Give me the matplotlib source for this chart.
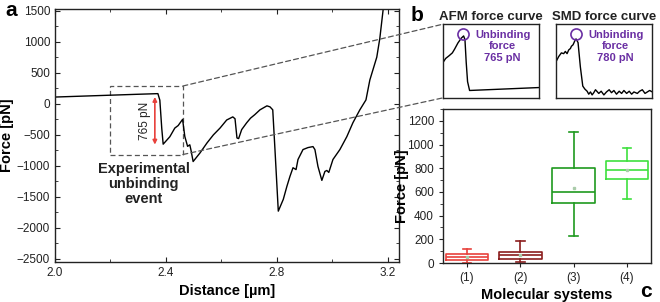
"""
Force-distance curve (a), AFM / SMD unbinding insets (b) and
box plot of unbinding forces per molecular system (c).
"""
import matplotlib
matplotlib.use("Agg")
import matplotlib.pyplot as plt
from matplotlib.patches import Rectangle, ConnectionPatch
from matplotlib.ticker import MultipleLocator

plt.rcParams["font.family"] = ["Liberation Sans", "DejaVu Sans"]

INK = "#222222"
PURPLE = "#6a2fa3"
RED = "#e8413c"

# ---- panel a: experimental force curve ------------------------------------
dist_um = [2.000, 2.100, 2.200, 2.300, 2.371, 2.378, 2.385, 2.390, 2.414, 2.432,
           2.444, 2.460, 2.468, 2.478, 2.486, 2.490, 2.498, 2.523, 2.548, 2.571,
           2.595, 2.619, 2.641, 2.649, 2.656, 2.662, 2.673, 2.691, 2.705, 2.720,
           2.739, 2.764, 2.775, 2.785, 2.793, 2.805, 2.823, 2.836, 2.847, 2.858,
           2.869, 2.876, 2.894, 2.912, 2.930, 2.937, 2.948, 2.962, 2.973, 2.980,
           2.987, 3.002, 3.027, 3.052, 3.074, 3.099, 3.121, 3.135, 3.160, 3.171,
           3.185]
force_pn = [110, 125, 140, 155, 165, 60, -400, -650, -530, -390,
            -350, -250, -525, -685, -660, -740, -930, -790, -630, -500,
            -390, -260, -210, -240, -550, -560, -415, -305, -230, -175,
            -96, -32, -48, -96, -737, -1730, -1540, -1330, -1170, -1030,
            -1060, -897, -737, -705, -689, -737, -1010, -1234, -1090, -1074,
            -1106, -897, -737, -529, -304, -96, 64, 385, 753, 1058,
            1600]

# ---- panel b: inset curves (normalised 0..1) ------------------------------
afm_x = [0.0, 0.028, 0.062, 0.097, 0.12, 0.155, 0.19, 0.214, 0.228, 0.241,
         0.255, 0.276, 1.0]
afm_y = [0.48, 0.535, 0.57, 0.61, 0.66, 0.745, 0.81, 0.84, 0.79, 0.48,
         0.22, 0.10, 0.14]
smd_x = [0.0, 0.028, 0.056, 0.08, 0.097, 0.115, 0.132, 0.15, 0.16, 0.177,
         0.194, 0.208, 0.229, 0.253, 0.278, 0.299, 0.323, 0.34, 0.358, 0.375,
         0.392, 0.41, 0.444, 0.469, 0.497, 0.524, 0.552, 0.576, 0.601, 0.628,
         0.656, 0.681, 0.705, 0.733, 0.76, 0.785, 0.809, 0.844, 0.868, 0.896,
         0.924, 0.948, 0.972, 1.0]
smd_y = [0.49, 0.56, 0.61, 0.60, 0.63, 0.60, 0.65, 0.67, 0.70, 0.72,
         0.77, 0.80, 0.75, 0.42, 0.16, 0.12, 0.09, 0.05, 0.08, 0.04,
         0.07, 0.11, 0.06, 0.09, 0.04, 0.08, 0.11, 0.07, 0.10, 0.05,
         0.09, 0.06, 0.10, 0.06, 0.09, 0.05, 0.08, 0.06, 0.09, 0.11,
         0.06, 0.08, 0.10, 0.08]

# ---- panel c: unbinding force box plots -----------------------------------
systems = ["(1)", "(2)", "(3)", "(4)"]
whis_lo = [0, 8, 225, 544]
q1 = [28, 37, 510, 713]
median = [51, 65, 603, 783]
q3 = [73, 93, 806, 862]
whis_hi = [115, 183, 1107, 969]
means = [52, 68, 637, 785]
box_colors = [RED, "#8b1e1e", "#1f9a1f", "#3ee03e"]


def style_spines(ax):
    for s in ax.spines.values():
        s.set_color(INK)
        s.set_linewidth(1.0)


fig = plt.figure(figsize=(6.6, 3.02), dpi=100)

# ---------------- a
ax = fig.add_axes([0.0833, 0.1325, 0.5212, 0.8377])
ax.plot(dist_um, force_pn, color="black", lw=1.0)
ax.set_xlim(2.0, 3.24)
ax.set_ylim(-2550, 1530)
ax.set_xticks([2.0, 2.4, 2.8, 3.2])
ax.set_xticklabels(["2.0", "2.4", "2.8", "3.2"])
ax.xaxis.set_minor_locator(MultipleLocator(0.2))
ax.set_yticks(range(-2500, 1501, 500))
ax.yaxis.set_minor_locator(MultipleLocator(250))
ax.tick_params(which="both", direction="in", top=True, right=True,
               labelsize=8.5, colors=INK, length=3.5)
ax.tick_params(which="minor", length=2.5)
ax.set_xlabel("Distance [µm]", fontsize=10.5, fontweight="bold", labelpad=4)
ax.set_ylabel("Force [pN]", fontsize=10.5, fontweight="bold", labelpad=2)
style_spines(ax)

# zoom rectangle around the unbinding event
rx0, rx1, ry0, ry1 = 2.197, 2.461, -817, 288
ax.add_patch(Rectangle((rx0, ry0), rx1 - rx0, ry1 - ry0, fill=False,
                       ls=(0, (4, 2.5)), lw=0.9, edgecolor="#555555"))
ax.annotate("", xy=(2.36, -657), xytext=(2.36, 112),
            arrowprops=dict(arrowstyle="<|-|>", color=RED, lw=1.2,
                            mutation_scale=6, shrinkA=0, shrinkB=0))
ax.text(2.325, -280, "765 pN", rotation=90, ha="center", va="center",
        fontsize=8.5, color=INK)
ax.text(2.32, -1290, "Experimental\nunbinding\nevent", ha="center",
        va="center", fontsize=10.5, fontweight="bold", color=INK,
        linespacing=1.1)
fig.text(0.008, 0.965, "a", fontsize=15, fontweight="bold", va="center")

# ---------------- b
insets = []
for left, title, xs, ys, peak_x, label in [
        (0.6712, "AFM force curve", afm_x, afm_y, 0.205, "765 pN"),
        (0.8424, "SMD force curve", smd_x, smd_y, 0.21, "780 pN")]:
    axi = fig.add_axes([left, 0.676, 0.146, 0.244])
    axi.plot(xs, ys, color="black", lw=1.0)
    axi.plot([peak_x], [0.86], marker="o", ms=8, mfc="none", mec=PURPLE,
             mew=1.2)
    axi.text(0.62, 0.70, "Unbinding\nforce\n" + label, ha="center",
             va="center", fontsize=8, fontweight="bold", color=PURPLE,
             linespacing=1.2, transform=axi.transAxes)
    axi.set_xlim(0, 1)
    axi.set_ylim(0, 1)
    axi.set_xticks([])
    axi.set_yticks([])
    axi.set_title(title, fontsize=9.5, fontweight="bold", color=INK, pad=3)
    style_spines(axi)
    insets.append(axi)
fig.text(0.622, 0.95, "b", fontsize=15, fontweight="bold", va="center")

# dashed lines from the rectangle to the AFM inset
for (py, iy) in [(ry1, 1.0), (ry0, 0.0)]:
    con = ConnectionPatch(xyA=(rx1, py), coordsA=ax.transData,
                          xyB=(0.0, iy), coordsB=insets[0].transAxes,
                          ls=(0, (4, 2.5)), lw=0.9, color="#555555")
    fig.add_artist(con)

# ---------------- c
axc = fig.add_axes([0.6712, 0.129, 0.315, 0.51])
stats = []
for i in range(len(systems)):
    stats.append(dict(whislo=whis_lo[i], q1=q1[i], med=median[i], q3=q3[i],
                      whishi=whis_hi[i], mean=means[i], label=systems[i]))
positions = list(range(1, len(systems) + 1))
for i, st in enumerate(stats):
    c = box_colors[i]
    axc.bxp([st], positions=[positions[i]], widths=0.8, showmeans=True,
            showfliers=False, capwidths=0.16,
            boxprops=dict(color=c, lw=1.2),
            whiskerprops=dict(color=c, lw=1.2),
            capprops=dict(color=c, lw=1.2),
            medianprops=dict(color=c, lw=1.2),
            meanprops=dict(marker="s", ms=1.5, mfc="#aaccaa", mec="#aaccaa"))
axc.set_xlim(0.55, 4.45)
axc.set_ylim(0, 1300)
axc.set_xticks(positions)
axc.set_xticklabels(systems)
axc.set_yticks(range(0, 1201, 200))
axc.yaxis.set_minor_locator(MultipleLocator(100))
axc.tick_params(which="both", direction="out", labelsize=8.5, colors=INK,
                length=3)
axc.tick_params(which="minor", length=2)
axc.set_xlabel("Molecular systems", fontsize=10.5, fontweight="bold",
               labelpad=3)
axc.set_ylabel("Force [pN]", fontsize=10.5, fontweight="bold")
axc.yaxis.set_label_coords(-0.165, 0.5)
style_spines(axc)
fig.text(0.988, 0.035, "c", fontsize=15, fontweight="bold", va="center",
         ha="right")

fig.savefig("out.png", dpi=100)
